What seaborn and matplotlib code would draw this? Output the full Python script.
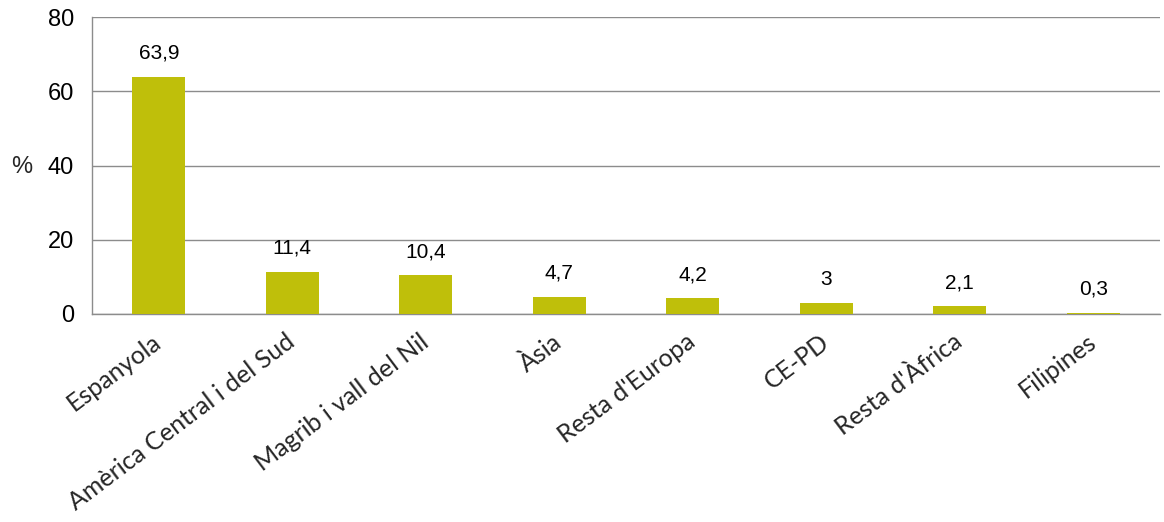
import matplotlib
matplotlib.use("Agg")
import matplotlib.pyplot as plt
import seaborn as sns
import pandas as pd
import numpy as np

categories = ["Espanyola", "Amèrica Central i del Sud", "Magrib i vall del Nil", "Àsia",
              "Resta d'Europa", "CE-PD", "Resta d'Àfrica", "Filipines"]
values = [63.9, 11.4, 10.4, 4.7, 4.2, 3.0, 2.1, 0.3]
value_labels = ["63,9", "11,4", "10,4", "4,7", "4,2", "3", "2,1", "0,3"]
yticks = [0, 20, 40, 60, 80]

sns.set_theme(style="white")
plt.rcParams['font.family'] = ['Liberation Sans', 'DejaVu Sans']

df = pd.DataFrame({"cat": categories, "val": values})

fig = plt.figure(figsize=(11.64, 5.22), dpi=100)
ax = fig.add_axes([92/1164, 1-314/522, (1160-92)/1164, (314-17)/522])

bar_color = "#BFBF0A"
sns.barplot(data=df, x="cat", y="val", color=bar_color, width=0.4, ax=ax,
            saturation=1, edgecolor="none", zorder=3)

ax.set_ylim(0, 80)
ax.set_xlim(-0.5, len(categories) - 0.5)
ax.set_yticks(yticks)
ax.set_yticklabels([str(t) for t in yticks], fontsize=17, color="black")
for t in yticks:
    ax.axhline(t, color="#8C8C8C", lw=1.0, zorder=1)

ax.set_xticks(range(len(categories)))
ax.set_xticklabels(categories, rotation=37, ha="right", va="center",
                   rotation_mode="anchor", fontsize=18, family=["Lato", "DejaVu Sans"])
ax.tick_params(axis="x", which="major", length=0, pad=18)
ax.set_xticks(np.arange(-0.5, len(categories), 1.0), minor=True)
ax.tick_params(axis="x", which="minor", length=8, color="#8C8C8C", width=1, direction="out")
ax.tick_params(axis="y", which="major", length=8, color="#8C8C8C", width=1, direction="out", pad=5)

for s in ["top", "right"]:
    ax.spines[s].set_visible(False)
for s in ["left", "bottom"]:
    ax.spines[s].set_color("#8C8C8C")
    ax.spines[s].set_linewidth(1.0)

ax.set_xlabel("")
ax.set_ylabel("%", rotation=0, fontsize=17, va="center")
ax.yaxis.set_label_coords(-0.066, 0.495)

for i, (v, lab) in enumerate(zip(values, value_labels)):
    ax.annotate(lab, (i, v), xytext=(0, 10), textcoords="offset points",
                ha="center", va="bottom", fontsize=15, color="black")

fig.savefig("out.png", dpi=100)
